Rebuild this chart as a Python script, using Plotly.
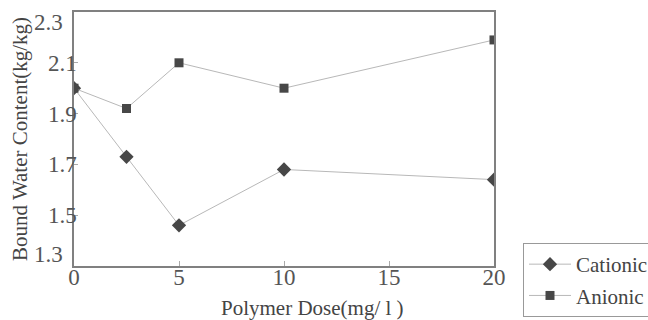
import plotly.graph_objects as go

dose = [0, 2.5, 5, 10, 20]
cationic = [2.00, 1.73, 1.46, 1.68, 1.64]
anionic = [2.00, 1.92, 2.10, 2.00, 2.19]
x_ticks = [0, 5, 10, 15, 20]
y_ticks = [1.3, 1.5, 1.7, 1.9, 2.1, 2.3]

FONT = "Liberation Serif"
L, R, T, B = 74, 154, 12, 54
W, H = 648, 320
pw, ph = W - L - R, H - T - B

fig = go.Figure()
fig.add_trace(go.Scatter(x=dose, y=cationic, name="Cationic", mode="lines+markers",
                         legendgroup="c",
                         line=dict(color="#b8b8b8", width=1),
                         marker=dict(symbol="diamond", size=11, color="#474747")))
fig.add_trace(go.Scatter(x=dose, y=anionic, name="Anionic", mode="lines+markers",
                         legendgroup="a",
                         line=dict(color="#b8b8b8", width=1),
                         marker=dict(symbol="square", size=9, color="#474747")))

# end tick labels are nudged inward as in the original
inner = ["%.1f" % v for v in y_ticks]
ticktext = ["" if v in (y_ticks[0], y_ticks[-1]) else s for v, s in zip(y_ticks, inner)]
annotations = [
    dict(x=0, xref="paper", y=y_ticks[0], yref="y", text="%.1f" % y_ticks[0], showarrow=False,
         xanchor="right", yanchor="bottom", xshift=-9, yshift=-3,
         font=dict(family=FONT, size=23, color="#555")),
    dict(x=0, xref="paper", y=y_ticks[-1], yref="y", text="%.1f" % y_ticks[-1], showarrow=False,
         xanchor="right", yanchor="top", xshift=-9, yshift=4,
         font=dict(family=FONT, size=23, color="#555")),
    dict(x=(312 - L) / pw, xref="paper", y=(H - B - 308) / ph, yref="paper",
         text="Polymer Dose(mg/ l )", showarrow=False, xanchor="center", yanchor="middle",
         font=dict(family=FONT, size=21, color="#444")),
    dict(x=(20 - L) / pw, xref="paper", y=0.5, yref="paper",
         text="Bound Water Content(kg/kg)", textangle=-90, showarrow=False,
         xanchor="center", yanchor="middle",
         font=dict(family=FONT, size=21, color="#444")),
]

fig.update_layout(
    width=W, height=H,
    margin=dict(l=L, r=R, t=T, b=B, autoexpand=False),
    paper_bgcolor="white", plot_bgcolor="white",
    font=dict(family=FONT, color="#444"),
    showlegend=True,
    annotations=annotations,
    legend=dict(x=(523 - L) / pw, y=(H - B - 243) / ph, xanchor="left", yanchor="top",
                bordercolor="#999", borderwidth=1, bgcolor="white",
                font=dict(family=FONT, size=21, color="#444"),
                tracegroupgap=1, itemwidth=42),
    xaxis=dict(range=[0, 20], tickvals=x_ticks, ticktext=[str(v) for v in x_ticks],
               automargin=False, ticklabeloverflow="allow", ticklabelstandoff=-10,
               showgrid=False, zeroline=False, showline=True, linecolor="#808080", linewidth=1.5,
               mirror=True, ticks="inside", ticklen=5, tickcolor="#aaa",
               tickfont=dict(family=FONT, size=23, color="#555")),
    yaxis=dict(range=[1.3, 2.3], tickvals=y_ticks, ticktext=ticktext,
               automargin=False, ticklabeloverflow="allow", ticklabelstandoff=-9,
               showgrid=False, zeroline=False, showline=True, linecolor="#808080", linewidth=1.5,
               mirror=True, ticks="inside", ticklen=4, tickcolor="#aaa",
               tickfont=dict(family=FONT, size=23, color="#555")),
)
fig.write_html("out.html", config={"displayModeBar": False},
               post_script="document.body.style.margin='0';document.body.style.overflow='hidden';")
